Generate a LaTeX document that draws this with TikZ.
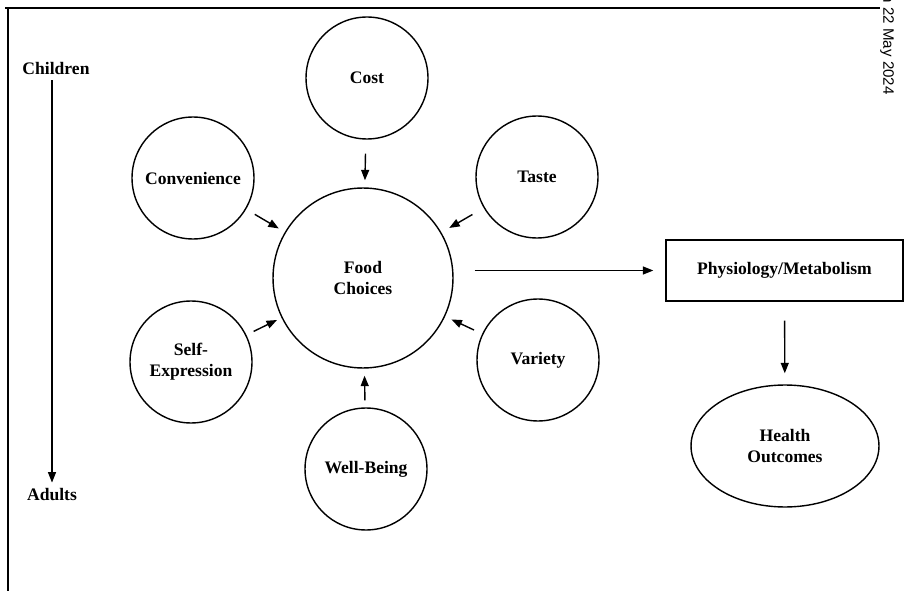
\documentclass[tikz,border=0pt]{standalone}
\usepackage{fontspec}
\setmainfont{Liberation Serif}
\newfontfamily\stampfont{Liberation Sans}
\usepackage{tikz}
\usetikzlibrary{shapes,arrows.meta}

\begin{document}
\begin{tikzpicture}[
        x=0.02cm, y=-0.02cm,
        factor/.style={draw, circle, line width=0.8pt, minimum size=2.44cm,
            inner sep=0pt, align=center, font=\bfseries},
        arr/.style={-{Triangle[length=0.21cm,width=0.16cm]}, line width=0.8pt}
    ]
                \useasboundingbox (0,0) rectangle (906,591);

                \draw[line width=1pt] (5,8) -- (880,8);
                \draw[line width=0.9pt] (8,8) -- (8,591);
                \node[rotate=-90, anchor=east, inner sep=0pt,
                    font=\stampfont\fontsize{8.6}{10}\selectfont] (stamp) at (887,95) {n 22 May 2024};

                \node[font=\bfseries] (children) at (56,68) {Children};
                \node[font=\bfseries] (adults) at (52,495) {Adults};
                \draw[arr] (adults |- children.south) -- (adults.north);

                \node[factor] (cost) at (367,78) {Cost};
                \node[factor] (conv) at (193,178) {Convenience};
                \node[factor] (taste) at (537,177) {Taste};
                \node[factor, minimum size=3.6cm] (food) at (363,278) {Food\\Choices};
                \node[factor] (self) at (191,362) {Self-\\Expression};
                \node[factor] (variety) at (538,360) {Variety};
                \node[factor] (well) at (366,469) {Well-Being};

                \node[
                    draw,
                    line width=0.8pt,
                    minimum width=4.74cm,
                    minimum height=1.22cm,
                    font=\bfseries
                    ] (phys) at (784.5,270.5) {Physiology/Metabolism};

                \node[
                    draw,
                    ellipse,
                    line width=0.8pt,
                    minimum width=3.76cm,
                    minimum height=2.44cm,
                    inner sep=0pt,
                    align=center,
                    font=\bfseries
                    ] (health) at (785,446) {Health\\Outcomes};

                \draw[arr, shorten <=0.28cm, shorten >=0.14cm] (cost) -- (food);
                \draw[arr, shorten <=0.2cm, shorten >=0.14cm] (conv) -- (food);
                \draw[arr, shorten <=0.26cm, shorten >=0.18cm] (taste) -- (food);
                \draw[arr, shorten <=0.18cm, shorten >=0.14cm] (variety) -- (food);
                \draw[arr, shorten <=0.16cm, shorten >=0.1cm] (self) -- (food);
                \draw[arr, shorten <=0.14cm, shorten >=0.14cm] (well) -- (food);

                \draw[arr, shorten <=0.42cm, shorten >=0.24cm] (food.east |- phys.west) -- (phys.west);
                \draw[arr, shorten <=0.38cm, shorten >=0.22cm] (phys) -- (health);
\end{tikzpicture}
\end{document}
